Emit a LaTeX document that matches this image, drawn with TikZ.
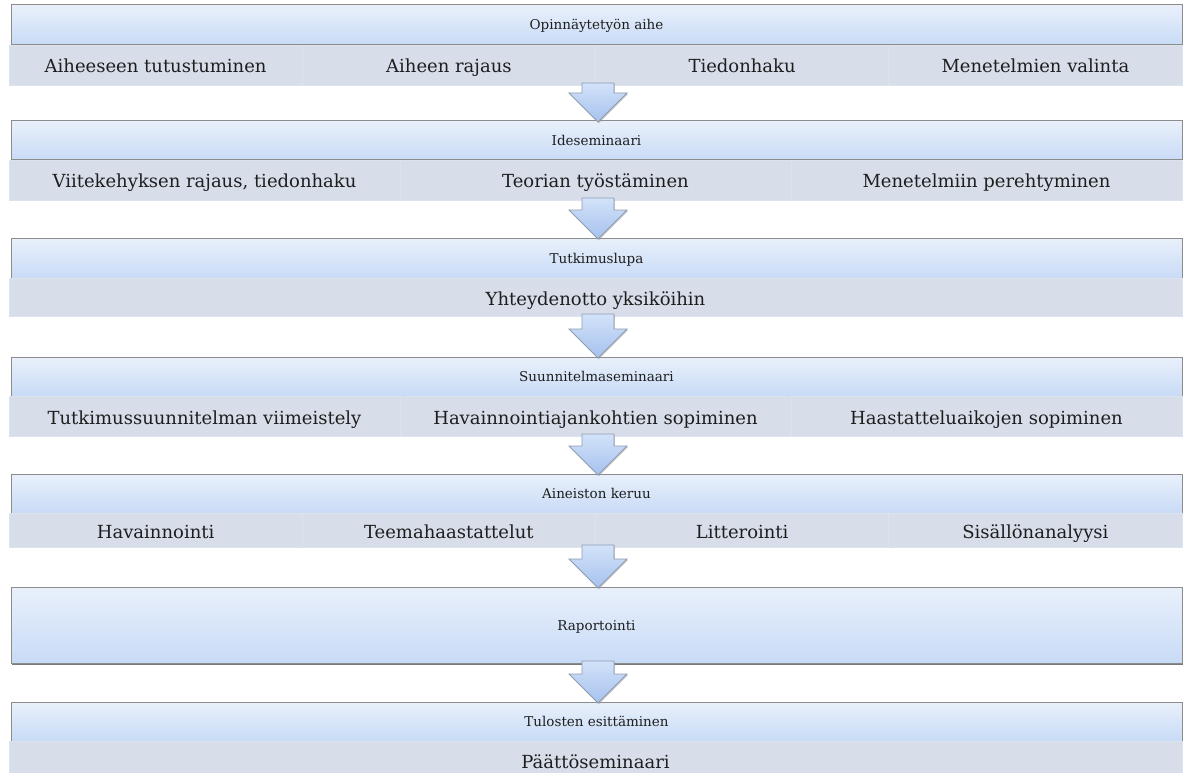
\documentclass[tikz,border=0pt]{standalone}
\usepackage{fontspec}
\setmainfont{DejaVu Serif}
\usetikzlibrary{calc,shadows}
\definecolor{hdtop}{HTML}{E9F0FB}
\definecolor{hdbot}{HTML}{C8DBF6}
\definecolor{band}{HTML}{D7DEEA}
\definecolor{bandline}{HTML}{DDE3ED}
\definecolor{edge}{HTML}{8C8C8C}
\definecolor{txt}{HTML}{1E1E1E}
\definecolor{artop}{HTML}{D2E2F9}
\definecolor{arbot}{HTML}{A6C2EE}
\definecolor{aredge}{HTML}{8E9CB0}
\tikzset{
  x=1pt, y=1pt,
  hdr/.style={draw=edge, line width=1pt, top color=hdtop, bottom color=hdbot,
    anchor=north west, inner sep=0pt, outer sep=0pt, minimum width=1171pt,
    drop shadow={shadow xshift=0.6pt, shadow yshift=-1.8pt, fill=black!65, opacity=0.8},
    text=txt, font=\fontsize{13.5}{16}\selectfont, text height=10pt, text depth=0pt},
  bandbox/.style={fill=band, draw=none, anchor=north west, inner sep=0pt, outer sep=0pt,
    minimum width=1173pt},
  cell/.style={draw=bandline, line width=0.6pt, anchor=north west, inner sep=0pt, outer sep=0pt,
    text=txt, font=\fontsize{18}{21}\selectfont, text height=17pt, text depth=1pt},
  arr/.style={draw=aredge, line width=0.8pt, top color=artop, bottom color=arbot,
    line join=miter,
    drop shadow={shadow xshift=0.8pt, shadow yshift=-1.2pt, fill=black!40, opacity=0.5}},
}
\newcommand\blockarrow[2]{%
  \path[arr] let \p1=(#1.south), \p2=(#2.north) in
    (582pt,\y1+2pt) -- (614pt,\y1+2pt) -- (614pt,\y2+28pt) -- (627pt,\y2+28pt)
    -- (598pt,\y2-1pt) -- (569pt,\y2+28pt) -- (582pt,\y2+28pt) -- cycle;}
\begin{document}
\begin{tikzpicture}
\useasboundingbox (0,0) rectangle (1192,-773);
\fill[white] (0,0) rectangle (1192,-773);

% Row 1
\node[hdr, minimum height=40pt] (h1) at (11,-5) {Opinnäytetyön aihe};
\node[bandbox, minimum height=40pt] (r1) at (9,-45) {};
\foreach \i/\t in {0/Aiheeseen tutustuminen,1/Aiheen rajaus,2/Tiedonhaku,3/Menetelmien valinta}
  \node[cell, minimum width=293.25pt, minimum height=40pt] (r1c\i) at ({9+293.25*\i},-45) {\t};

% Row 2
\node[hdr, minimum height=39pt] (h2) at (11,-121) {Ideseminaari};
\node[bandbox, minimum height=40pt] (r2) at (9,-160) {};
\foreach \i/\t in {0/{Viitekehyksen rajaus, tiedonhaku},1/Teorian työstäminen,2/Menetelmiin perehtyminen}
  \node[cell, minimum width=391pt, minimum height=40pt] (r2c\i) at ({9+391*\i},-160) {\t};

% Row 3
\node[hdr, minimum height=40pt] (h3) at (11,-238) {Tutkimuslupa};
\node[bandbox, minimum height=38pt] (r3) at (9,-278) {};
\node[cell, minimum width=1173pt, minimum height=38pt] (r3c0) at (9,-278) {Yhteydenotto yksiköihin};

% Row 4
\node[hdr, minimum height=39pt] (h4) at (11,-357) {Suunnitelmaseminaari};
\node[bandbox, minimum height=40pt] (r4) at (9,-396) {};
\foreach \i/\t in {0/Tutkimussuunnitelman viimeistely,1/Havainnointiajankohtien sopiminen,2/Haastatteluaikojen sopiminen}
  \node[cell, minimum width=391pt, minimum height=40pt] (r4c\i) at ({9+391*\i},-396) {\t};

% Row 5
\node[hdr, minimum height=39pt] (h5) at (11,-474) {Aineiston keruu};
\node[bandbox, minimum height=34pt] (r5) at (9,-513) {};
\foreach \i/\t in {0/Havainnointi,1/Teemahaastattelut,2/Litterointi,3/Sisällönanalyysi}
  \node[cell, minimum width=293.25pt, minimum height=34pt] (r5c\i) at ({9+293.25*\i},-513) {\t};

% Row 6
\node[hdr, minimum height=76pt] (h6) at (11,-587) {Raportointi};

% Row 7
\node[hdr, minimum height=39pt] (h7) at (11,-702) {Tulosten esittäminen};
\node[bandbox, minimum height=38pt] (r7) at (9,-741) {};
\node[cell, minimum width=1173pt, minimum height=38pt] (r7c0) at (9,-741) {Päättöseminaari};

% Arrows
\blockarrow{r1}{h2}
\blockarrow{r2}{h3}
\blockarrow{r3}{h4}
\blockarrow{r4}{h5}
\blockarrow{r5}{h6}
\blockarrow{h6}{h7}
\end{tikzpicture}
\end{document}
